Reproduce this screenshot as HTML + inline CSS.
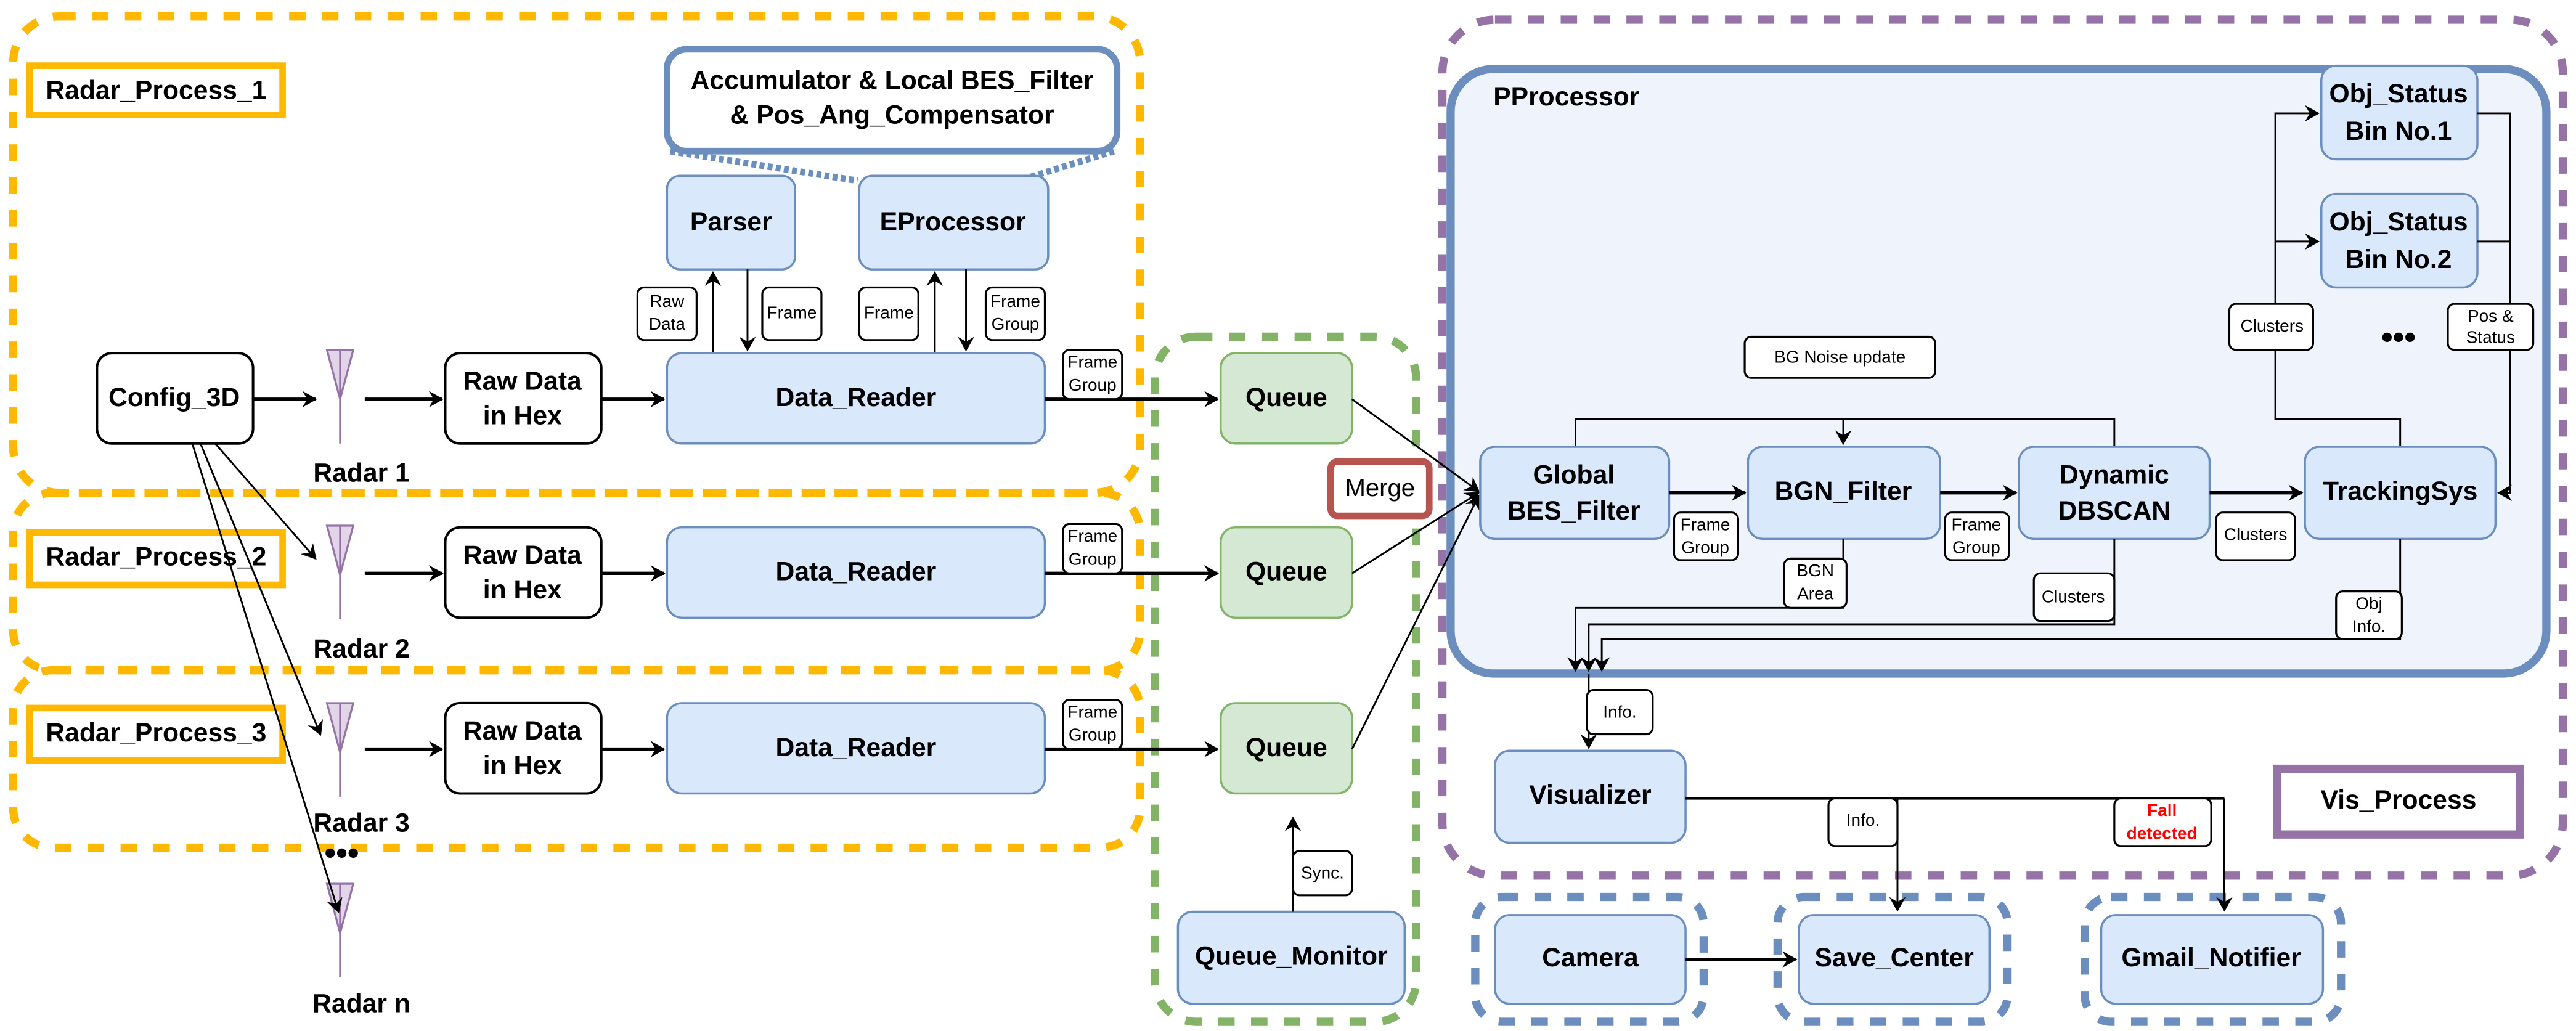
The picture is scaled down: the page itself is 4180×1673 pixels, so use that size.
<!DOCTYPE html>
<html><head><meta charset="utf-8"><style>
html,body{margin:0;padding:0;background:#fff}
svg{display:block}
text{font-family:"Liberation Sans Narrow","Liberation Sans",sans-serif}
.n{font-size:16px;font-weight:bold;text-anchor:middle;dominant-baseline:middle}
.l{font-size:10.5px;text-anchor:middle;dominant-baseline:middle}
.bl{fill:#dae8fc;stroke:#6c8ebf;stroke-width:1.3}
.wh{fill:#fff;stroke:#000;stroke-width:1.5}
.lb{fill:#fff;stroke:#000;stroke-width:1.2}
.a{stroke:#000;stroke-width:2;fill:none}
.t{stroke:#000;stroke-width:1.1;fill:none}
</style></head><body>
<svg width="4180" height="1673" viewBox="0 0 1568 627.6" xmlns="http://www.w3.org/2000/svg">
<defs>
<marker id="m" markerWidth="10" markerHeight="10" refX="8" refY="5" orient="auto" markerUnits="userSpaceOnUse"><path d="M0,0 L9,5 L0,10 L3,5 Z" fill="#000"/></marker>
</defs>
<!-- yellow containers -->
<g fill="none" stroke="#FFB800" stroke-width="5" stroke-dasharray="10,10">
<rect x="8" y="10" width="686" height="290" rx="28"/>
<rect x="8" y="300" width="686" height="108" rx="24"/>
<rect x="8" y="408" width="686" height="108" rx="24"/>
</g>
<g fill="#fff" stroke="#FFB800" stroke-width="4">
<rect x="18" y="40" width="154" height="30"/>
<rect x="18" y="324" width="154" height="32"/>
<rect x="18" y="431" width="154" height="32"/>
</g>
<text class="n" x="95" y="56">Radar_Process_1</text>
<text class="n" x="95" y="340">Radar_Process_2</text>
<text class="n" x="95" y="447">Radar_Process_3</text>
<!-- green container -->
<rect x="703" y="205" width="159" height="417" rx="25" fill="none" stroke="#82b366" stroke-width="5" stroke-dasharray="10,10"/>
<!-- purple container -->
<rect x="878" y="12" width="682" height="521" rx="32" fill="none" stroke="#9673a6" stroke-width="5" stroke-dasharray="10,10"/>
<rect x="883" y="42" width="667" height="368" rx="26" fill="#eff4fc" stroke="#6c8ebf" stroke-width="5"/>
<text x="909" y="60" style="font-size:16px;font-weight:bold;dominant-baseline:middle">PProcessor</text>
<!-- blue dashed small containers -->
<g fill="none" stroke="#6c8ebf" stroke-width="5" stroke-dasharray="10,10">
<rect x="898" y="546" width="139" height="76" rx="16"/>
<rect x="1082" y="546" width="140" height="76" rx="16"/>
<rect x="1269" y="546" width="156" height="76" rx="16"/>
</g>
<!-- callout -->
<path d="M408,92 L522,110 M678,92 L620,110" stroke="#6c8ebf" stroke-width="4" stroke-dasharray="3,2" fill="none"/>
<rect x="406" y="30" width="274" height="62" rx="12" fill="#fff" stroke="#6c8ebf" stroke-width="4"/>
<text class="n" x="543" y="50">Accumulator &amp; Local BES_Filter</text>
<text class="n" x="543" y="71">&amp; Pos_Ang_Compensator</text>
<!-- row1 -->
<rect class="bl" x="406" y="107" width="78" height="57" rx="8"/><text class="n" x="445" y="136">Parser</text>
<rect class="bl" x="523" y="107" width="115" height="57" rx="8"/><text class="n" x="580" y="136">EProcessor</text>
<path class="t" d="M434,215 V166" marker-end="url(#m)"/>
<path class="t" d="M455,164 V213" marker-end="url(#m)"/>
<path class="t" d="M569,215 V166" marker-end="url(#m)"/>
<path class="t" d="M588,164 V213" marker-end="url(#m)"/>
<rect class="lb" x="388" y="175" width="36" height="32" rx="4"/><text class="l" x="406" y="184">Raw</text><text class="l" x="406" y="198">Data</text>
<rect class="lb" x="464" y="175" width="36" height="32" rx="4"/><text class="l" x="482" y="191">Frame</text>
<rect class="lb" x="523" y="175" width="36" height="32" rx="4"/><text class="l" x="541" y="191">Frame</text>
<rect class="lb" x="600" y="175" width="36" height="32" rx="4"/><text class="l" x="618" y="184">Frame</text><text class="l" x="618" y="198">Group</text>

<g id="rows">
<rect class="wh" x="59" y="215" width="95" height="55" rx="9"/><text class="n" x="106" y="243">Config_3D</text>
</g>
<!-- radars -->
<g stroke="#9673a6" stroke-width="1.2" fill="#e1d5e7">
<path d="M199,213 L215,213 L207,243 Z"/><line x1="207" y1="213" x2="207" y2="270"/>
<path d="M199,320 L215,320 L207,350 Z"/><line x1="207" y1="320" x2="207" y2="377"/>
<path d="M199,428 L215,428 L207,458 Z"/><line x1="207" y1="428" x2="207" y2="485"/>
<path d="M199,538 L215,538 L207,568 Z"/><line x1="207" y1="538" x2="207" y2="595"/>
</g>
<text class="n" x="220" y="289">Radar 1</text>
<text class="n" x="220" y="396">Radar 2</text>
<text class="n" x="220" y="502">Radar 3</text>
<text class="n" x="220" y="612">Radar n</text>
<text x="208" y="526" style="font-size:20px;font-weight:bold;text-anchor:middle">•••</text>
<path class="a" d="M154,243 H192" marker-end="url(#m)"/>
<!-- config lines -->
<path class="t" d="M131,270 L192,340" marker-end="url(#m)"/>
<path class="t" d="M122,270 L195,447" marker-end="url(#m)"/>
<path class="t" d="M117,270 L206,555" marker-end="url(#m)"/>
<!-- rows -->
<g>
<rect class="wh" x="271" y="215" width="95" height="55" rx="9"/><text class="n" x="318" y="233">Raw Data</text><text class="n" x="318" y="254">in Hex</text>
<rect class="bl" x="406" y="215" width="230" height="55" rx="9"/><text class="n" x="521" y="243">Data_Reader</text>
<rect x="743" y="215" width="80" height="55" rx="9" fill="#d5e8d4" stroke="#82b366" stroke-width="1.3"/><text class="n" x="783" y="243">Queue</text>
<path class="a" d="M222,243 H269" marker-end="url(#m)"/>
<path class="a" d="M366,243 H404" marker-end="url(#m)"/>
<path class="a" d="M636,243 H741" marker-end="url(#m)"/>
<rect class="lb" x="647" y="213" width="36" height="30" rx="4"/><text class="l" x="665" y="221">Frame</text><text class="l" x="665" y="235">Group</text>
</g>
<g transform="translate(0,106)">
<rect class="wh" x="271" y="215" width="95" height="55" rx="9"/><text class="n" x="318" y="233">Raw Data</text><text class="n" x="318" y="254">in Hex</text>
<rect class="bl" x="406" y="215" width="230" height="55" rx="9"/><text class="n" x="521" y="243">Data_Reader</text>
<rect x="743" y="215" width="80" height="55" rx="9" fill="#d5e8d4" stroke="#82b366" stroke-width="1.3"/><text class="n" x="783" y="243">Queue</text>
<path class="a" d="M222,243 H269" marker-end="url(#m)"/>
<path class="a" d="M366,243 H404" marker-end="url(#m)"/>
<path class="a" d="M636,243 H741" marker-end="url(#m)"/>
<rect class="lb" x="647" y="213" width="36" height="30" rx="4"/><text class="l" x="665" y="221">Frame</text><text class="l" x="665" y="235">Group</text>
</g>
<g transform="translate(0,213)">
<rect class="wh" x="271" y="215" width="95" height="55" rx="9"/><text class="n" x="318" y="233">Raw Data</text><text class="n" x="318" y="254">in Hex</text>
<rect class="bl" x="406" y="215" width="230" height="55" rx="9"/><text class="n" x="521" y="243">Data_Reader</text>
<rect x="743" y="215" width="80" height="55" rx="9" fill="#d5e8d4" stroke="#82b366" stroke-width="1.3"/><text class="n" x="783" y="243">Queue</text>
<path class="a" d="M222,243 H269" marker-end="url(#m)"/>
<path class="a" d="M366,243 H404" marker-end="url(#m)"/>
<path class="a" d="M636,243 H741" marker-end="url(#m)"/>
<rect class="lb" x="647" y="213" width="36" height="30" rx="4"/><text class="l" x="665" y="221">Frame</text><text class="l" x="665" y="235">Group</text>
</g>
<!-- queue monitor -->
<rect class="bl" x="717" y="555" width="138" height="56" rx="9"/><text class="n" x="786" y="583">Queue_Monitor</text>
<path class="t" d="M787,555 V498" marker-end="url(#m)"/>
<rect class="lb" x="787" y="518" width="36" height="27" rx="4"/><text class="l" x="805" y="532">Sync.</text>
<!-- merge -->
<path class="t" d="M823,243 L900,299" marker-end="url(#m)"/>
<path class="t" d="M823,349 L900,300" marker-end="url(#m)"/>
<path class="t" d="M823,456 L900,302" marker-end="url(#m)"/>
<rect x="810" y="281" width="60" height="33" rx="4" fill="#fff" stroke="#b85450" stroke-width="4"/>
<text x="840" y="298" style="font-size:15px;text-anchor:middle;dominant-baseline:middle">Merge</text>
<!-- pprocessor internals -->
<rect class="bl" x="1413" y="40" width="95" height="57" rx="9"/><text class="n" x="1460" y="58">Obj_Status</text><text class="n" x="1460" y="81">Bin No.1</text>
<rect class="bl" x="1413" y="118" width="95" height="57" rx="9"/><text class="n" x="1460" y="136">Obj_Status</text><text class="n" x="1460" y="159">Bin No.2</text>
<text x="1460" y="212" style="font-size:20px;font-weight:bold;text-anchor:middle">•••</text>
<path class="t" d="M1461,272 V255 H1385 V69 H1411" marker-end="url(#m)"/>
<path class="t" d="M1385,147 H1411" marker-end="url(#m)"/>
<path class="t" d="M1508,69 H1528 V300 H1521" marker-end="url(#m)"/>
<path class="t" d="M1508,147 H1528"/>
<rect class="lb" x="1357" y="185" width="51" height="28" rx="4"/><text class="l" x="1383" y="199">Clusters</text>
<rect class="lb" x="1490" y="185" width="52" height="28" rx="4"/><text class="l" x="1516" y="193">Pos &amp;</text><text class="l" x="1516" y="206">Status</text>
<path class="t" d="M959,272 V255 H1287 V272"/>
<path class="t" d="M1122,255 V270" marker-end="url(#m)"/>
<rect class="lb" x="1062" y="205" width="116" height="25" rx="4"/><text class="l" x="1120" y="218">BG Noise update</text>
<rect class="bl" x="901" y="272" width="115" height="56" rx="9"/><text class="n" x="958" y="290">Global</text><text class="n" x="958" y="312">BES_Filter</text>
<rect class="bl" x="1064" y="272" width="117" height="56" rx="9"/><text class="n" x="1122" y="300">BGN_Filter</text>
<rect class="bl" x="1229" y="272" width="116" height="56" rx="9"/><text class="n" x="1287" y="290">Dynamic</text><text class="n" x="1287" y="312">DBSCAN</text>
<rect class="bl" x="1403" y="272" width="116" height="56" rx="9"/><text class="n" x="1461" y="300">TrackingSys</text>
<path class="a" d="M1016,300 H1062" marker-end="url(#m)"/>
<path class="a" d="M1181,300 H1227" marker-end="url(#m)"/>
<path class="a" d="M1345,300 H1401" marker-end="url(#m)"/>
<rect class="lb" x="1019" y="312" width="39" height="29" rx="4"/><text class="l" x="1038" y="320">Frame</text><text class="l" x="1038" y="334">Group</text>
<rect class="lb" x="1184" y="312" width="39" height="29" rx="4"/><text class="l" x="1203" y="320">Frame</text><text class="l" x="1203" y="334">Group</text>
<rect class="lb" x="1349" y="312" width="48" height="29" rx="4"/><text class="l" x="1373" y="326">Clusters</text>
<path class="t" d="M1122,328 V370 H959 V408" marker-end="url(#m)"/>
<path class="t" d="M1287,328 V380 H967 V408" marker-end="url(#m)"/>
<path class="t" d="M1461,328 V389 H975 V408" marker-end="url(#m)"/>
<rect class="lb" x="1086" y="340" width="38" height="30" rx="4"/><text class="l" x="1105" y="348">BGN</text><text class="l" x="1105" y="362">Area</text>
<rect class="lb" x="1238" y="349" width="49" height="29" rx="4"/><text class="l" x="1262" y="364">Clusters</text>
<rect class="lb" x="1422" y="360" width="40" height="29" rx="4"/><text class="l" x="1442" y="368">Obj</text><text class="l" x="1442" y="382">Info.</text>
<!-- visualizer -->
<path class="t" d="M967,410 V455" marker-end="url(#m)"/>
<rect class="lb" x="966" y="420" width="40" height="27" rx="4"/><text class="l" x="986" y="434">Info.</text>
<rect class="bl" x="910" y="457" width="116" height="56" rx="9"/><text class="n" x="968" y="485">Visualizer</text>
<rect x="1386" y="468" width="148" height="40" fill="#fff" stroke="#9673a6" stroke-width="5"/>
<text class="n" x="1460" y="488">Vis_Process</text>
<path class="a" d="M1026,486 H1354" style="stroke-width:1.6"/>
<path class="t" d="M1155,486 V554" marker-end="url(#m)"/>
<path class="t" d="M1354,486 V554" marker-end="url(#m)"/>
<rect class="lb" x="1113" y="486" width="42" height="29" rx="4"/><text class="l" x="1134" y="500">Info.</text>
<rect class="lb" x="1287" y="486" width="59" height="29" rx="4"/><text class="l" x="1316" y="494" style="fill:#f00;font-weight:bold">Fall</text><text class="l" x="1316" y="508" style="fill:#f00;font-weight:bold">detected</text>
<rect class="bl" x="910" y="557" width="116" height="54" rx="9"/><text class="n" x="968" y="584">Camera</text>
<rect class="bl" x="1095" y="557" width="116" height="54" rx="9"/><text class="n" x="1153" y="584">Save_Center</text>
<rect class="bl" x="1279" y="557" width="135" height="54" rx="9"/><text class="n" x="1346" y="584">Gmail_Notifier</text>
<path class="a" d="M1026,584 H1093" marker-end="url(#m)"/>
</svg>
</body></html>
